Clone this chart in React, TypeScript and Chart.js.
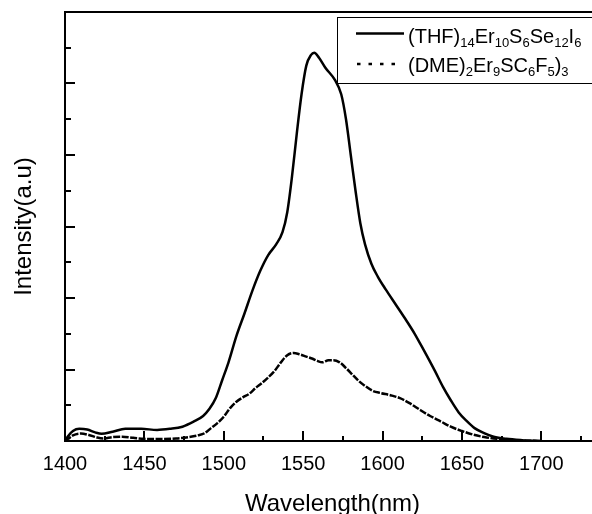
import React, { useEffect, useRef } from "react";
import { Chart, registerables } from "chart.js";

Chart.register(...registerables);

const FONT = "'Liberation Sans', Arial, Helvetica, sans-serif";

// ---- data ----
const X_TICKS = [1400, 1450, 1500, 1550, 1600, 1650, 1700];
const X_MINOR = [1425, 1475, 1525, 1575, 1625, 1675, 1725];
const Y_MAJOR = [1, 2, 3, 4, 5];
const Y_MINOR = [0.5, 1.5, 2.5, 3.5, 4.5, 5.5];

const THF_X = [1400, 1402, 1405, 1409, 1414, 1419, 1423, 1430, 1438, 1448, 1458, 1466, 1474, 1481, 1487, 1491, 1495, 1499, 1503, 1508, 1513, 1518, 1523, 1528, 1533, 1537, 1540, 1543, 1546, 1549, 1552, 1555, 1557, 1560, 1564, 1570, 1574, 1577, 1580, 1583, 1586, 1589, 1593, 1597, 1602, 1608, 1614, 1620, 1626, 1633, 1638, 1643, 1648, 1653, 1658, 1664, 1670, 1678, 1688, 1700];
const THF_Y = [0.0, 0.07, 0.14, 0.17, 0.16, 0.12, 0.10, 0.13, 0.17, 0.17, 0.155, 0.17, 0.20, 0.27, 0.35, 0.45, 0.60, 0.85, 1.10, 1.47, 1.78, 2.10, 2.38, 2.60, 2.75, 2.92, 3.20, 3.70, 4.30, 4.85, 5.25, 5.40, 5.43, 5.36, 5.22, 5.05, 4.85, 4.50, 4.00, 3.50, 3.05, 2.75, 2.48, 2.30, 2.12, 1.92, 1.72, 1.51, 1.27, 0.98, 0.76, 0.57, 0.40, 0.28, 0.18, 0.11, 0.06, 0.03, 0.012, 0.0];

const DME_X = [1400, 1402, 1405, 1410, 1415, 1420, 1424, 1430, 1436, 1443, 1450, 1460, 1470, 1478, 1484, 1488, 1492, 1496, 1500, 1504, 1508, 1512, 1516, 1520, 1524, 1528, 1532, 1536, 1540, 1544, 1548, 1552, 1556, 1559, 1562, 1566, 1569, 1573, 1577, 1581, 1585, 1589, 1594, 1599, 1605, 1611, 1617, 1624, 1630, 1637, 1643, 1650, 1657, 1664, 1672, 1682, 1692, 1700];
const DME_Y = [0.0, 0.03, 0.08, 0.105, 0.085, 0.05, 0.035, 0.055, 0.06, 0.045, 0.03, 0.028, 0.035, 0.055, 0.08, 0.11, 0.18, 0.25, 0.34, 0.46, 0.55, 0.61, 0.66, 0.74, 0.81, 0.89, 0.98, 1.10, 1.20, 1.23, 1.21, 1.18, 1.15, 1.12, 1.10, 1.13, 1.13, 1.10, 1.02, 0.93, 0.84, 0.77, 0.70, 0.67, 0.64, 0.60, 0.53, 0.43, 0.35, 0.27, 0.20, 0.14, 0.09, 0.055, 0.03, 0.012, 0.004, 0.0];

// legend labels: [text, isSubscript]
const LABEL_THF: [string, number][] = [["(THF)", 0], ["14", 1], ["Er", 0], ["10", 1], ["S", 0], ["6", 1], ["Se", 0], ["12", 1], ["I", 0], ["6", 1]];
const LABEL_DME: [string, number][] = [["(DME)", 0], ["2", 1], ["Er", 0], ["9", 1], ["SC", 0], ["6", 1], ["F", 0], ["5", 1], [")", 0], ["3", 1]];

const X_TITLE = "Wavelength(nm)";
const Y_TITLE = "Intensity(a.u)";

function drawRich(ctx: CanvasRenderingContext2D, parts: [string, number][], x: number, y: number) {
  let cx = x;
  for (const [t, sub] of parts) {
    ctx.font = sub ? `13px ${FONT}` : `20px ${FONT}`;
    ctx.fillText(t, cx, sub ? y + 4 : y);
    cx += ctx.measureText(t).width;
  }
}

const framePlugin = {
  id: "frameTicks",
  afterDraw(chart: any) {
    const ctx: CanvasRenderingContext2D = chart.ctx;
    const xs = chart.scales.x;
    const ys = chart.scales.y;
    const area = chart.chartArea;
    ctx.save();
    ctx.strokeStyle = "#000";
    // top frame line
    ctx.lineWidth = 2;
    ctx.beginPath();
    ctx.moveTo(area.left - 1, area.top);
    ctx.lineTo(area.right + 2, area.top);
    ctx.stroke();
    // inward ticks
    ctx.lineWidth = 2;
    ctx.beginPath();
    for (const v of X_TICKS) {
      const p = Math.round(xs.getPixelForValue(v));
      ctx.moveTo(p, area.bottom);
      ctx.lineTo(p, area.bottom - 10);
    }
    for (const v of X_MINOR) {
      const p = Math.round(xs.getPixelForValue(v));
      ctx.moveTo(p, area.bottom);
      ctx.lineTo(p, area.bottom - 5);
    }
    for (const v of Y_MAJOR) {
      const p = Math.round(ys.getPixelForValue(v));
      ctx.moveTo(area.left, p);
      ctx.lineTo(area.left + 10, p);
    }
    for (const v of Y_MINOR) {
      const p = Math.round(ys.getPixelForValue(v));
      ctx.moveTo(area.left, p);
      ctx.lineTo(area.left + 6, p);
    }
    ctx.stroke();

    // legend
    const bx = 337.5, by = 17.5;
    ctx.fillStyle = "#fff";
    ctx.fillRect(bx, by, 300, 66);
    ctx.lineWidth = 1;
    ctx.strokeRect(bx, by, 300, 66);
    ctx.lineWidth = 2.5;
    ctx.beginPath();
    ctx.moveTo(356, 33.5);
    ctx.lineTo(404, 33.5);
    ctx.stroke();
    ctx.setLineDash([3.5, 8]);
    ctx.beginPath();
    ctx.moveTo(357, 64);
    ctx.lineTo(397, 64);
    ctx.stroke();
    ctx.setLineDash([]);
    ctx.fillStyle = "#000";
    ctx.textBaseline = "alphabetic";
    ctx.textAlign = "left";
    drawRich(ctx, LABEL_THF, 408, 43);
    drawRich(ctx, LABEL_DME, 408, 72);
    ctx.restore();
  },
};

export default function App() {
  const ref = useRef<HTMLCanvasElement>(null);
  useEffect(() => {
    if (!ref.current) return;
    const chart = new Chart(ref.current, {
      type: "line",
      data: {
        datasets: [
          {
            label: "THF",
            data: THF_X.map((x, i) => ({ x, y: THF_Y[i] })),
            borderColor: "#000",
            borderWidth: 2.5,
            pointRadius: 0,
            fill: false,
            cubicInterpolationMode: "monotone",
          },
          {
            label: "DME",
            data: DME_X.map((x, i) => ({ x, y: DME_Y[i] })),
            borderColor: "#000",
            borderWidth: 2.5,
            borderDash: [7, 1.5],
            pointRadius: 0,
            fill: false,
            cubicInterpolationMode: "monotone",
          },
        ],
      },
      options: {
        animation: false,
        responsive: false,
        devicePixelRatio: 1,
        layout: { padding: { top: 12, left: 0, right: 0, bottom: 0 } },
        plugins: { legend: { display: false }, tooltip: { enabled: false } },
        scales: {
          x: {
            type: "linear",
            min: 1400,
            max: 1737,
            grid: { display: false, drawTicks: false },
            border: { display: true, color: "#000", width: 2 },
            ticks: {
              color: "#000",
              font: { family: FONT, size: 20 },
              padding: 11,
              maxRotation: 0,
              autoSkip: false,
              callback: (v: any) => String(v),
            },
            afterBuildTicks: (s: any) => {
              s.ticks = X_TICKS.map((v) => ({ value: v }));
            },
            afterFit: (s: any) => {
              s.height = 73;
            },
            title: {
              display: true,
              text: X_TITLE,
              color: "#000",
              font: { family: FONT, size: 24, lineHeight: 1 },
              padding: { top: 0, bottom: -2 },
            },
          },
          y: {
            type: "linear",
            min: 0,
            max: 6,
            grid: { display: false, drawTicks: false },
            border: { display: true, color: "#000", width: 2 },
            ticks: { display: false },
            afterFit: (s: any) => {
              s.width = 65;
            },
            title: {
              display: true,
              text: Y_TITLE,
              color: "#000",
              font: { family: FONT, size: 24, lineHeight: 1 },
              padding: { top: 12, bottom: 0 },
            },
          },
        },
      },
      plugins: [framePlugin],
    });
    return () => chart.destroy();
  }, []);
  return (
    <div style={{ position: "fixed", left: 0, top: 0, width: 600, height: 514, overflow: "hidden", background: "#fff" }}>
      <canvas ref={ref} width={600} height={514} style={{ display: "block" }} />
    </div>
  );
}
